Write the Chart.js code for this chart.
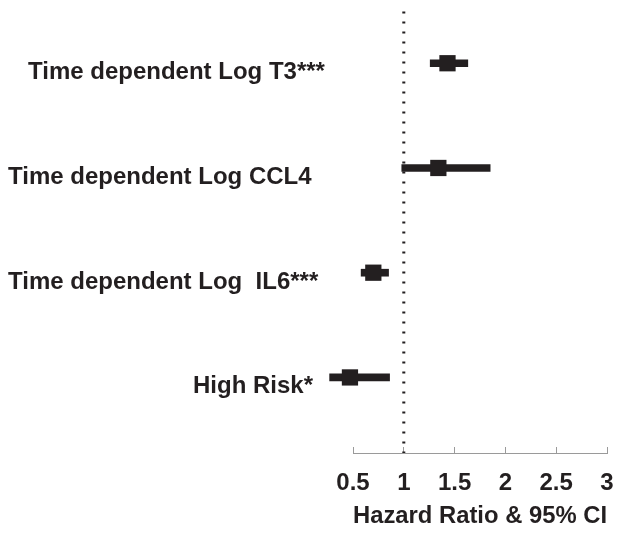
<!DOCTYPE html>
<html>
<head>
<meta charset="utf-8">
<script src="https://cdn.jsdelivr.net/npm/chart.js@4"></script>
<style>
  html, body { margin: 0; padding: 0; background: #fff; }
  #wrap { width: 624px; height: 535px; }
</style>
</head>
<body>
<div id="wrap"><canvas id="c" width="624" height="535"></canvas></div>
<script>
const categories = ['Time dependent Log T3***', 'Time dependent Log CCL4', 'Time dependent Log  IL6***', 'High Risk*'];
const rowPos = [4, 3, 2, 1];
const hazardRatio = [1.43, 1.34, 0.70, 0.47];
const ciLower = [1.26, 0.98, 0.58, 0.27];
const ciUpper = [1.63, 1.85, 0.85, 0.86];
const tickValues = [0.5, 1, 1.5, 2, 2.5, 3];
const tickLabels = ['0.5', '1', '1.5', '2', '2.5', '3'];
const referenceValue = 1;
const axisTitle = 'Hazard Ratio & 95% CI';

const INK = '#231f20';
const FONT = '"Liberation Sans", Arial, sans-serif';
const Y_MIN = 0.2785, Y_MAX = 4.494;

const labelPlugin = {
  id: 'rowLabels',
  afterDraw(chart, args, opts) {
    const ctx = chart.ctx;
    const y = chart.scales.y;
    ctx.save();
    ctx.fillStyle = INK;
    ctx.font = 'bold 24px ' + FONT;
    ctx.textAlign = 'left';
    ctx.textBaseline = 'alphabetic';
    categories.forEach((c, i) => {
      ctx.fillText(c, opts.left[i], y.getPixelForValue(rowPos[i]) + opts.baselineOffset);
    });
    ctx.restore();
  }
};

new Chart(document.getElementById('c'), {
  type: 'bar',
  data: {
    datasets: [
      {
        type: 'line',
        indexAxis: 'y',
        data: [{x: referenceValue, y: Y_MAX}, {x: referenceValue, y: Y_MIN}],
        borderColor: INK,
        borderWidth: 3,
        borderDash: [2, 8],
        pointRadius: 0,
        fill: false,
        order: 3
      },
      {
        type: 'bar',
        indexAxis: 'y',
        data: rowPos.map((p, i) => ({x: [ciLower[i], ciUpper[i]], y: p})),
        backgroundColor: INK,
        borderWidth: 0,
        barThickness: 7,
        order: 2
      },
      {
        type: 'scatter',
        indexAxis: 'x',
        data: rowPos.map((p, i) => ({x: hazardRatio[i], y: p})),
        pointStyle: 'rect',
        pointRadius: 11.5,
        backgroundColor: INK,
        borderWidth: 0,
        order: 1
      }
    ]
  },
  options: {
    indexAxis: 'y',
    responsive: false,
    animation: false,
    events: [],
    clip: false,
    layout: { padding: { left: 353, right: 17, top: 9, bottom: 0 } },
    plugins: {
      legend: { display: false },
      tooltip: { enabled: false },
      rowLabels: { left: [28, 8, 8, 193], baselineOffset: 16 }
    },
    scales: {
      x: {
        type: 'linear',
        position: 'bottom',
        offset: false,
        min: 0.5,
        max: 3,
        afterBuildTicks(scale) { scale.ticks = tickValues.map(v => ({value: v})); },
        afterFit(scale) { scale.height = 82; scale.paddingLeft = 0; scale.paddingRight = 0; },
        ticks: {
          callback: (v, i) => tickLabels[i],
          color: INK,
          font: { family: FONT, size: 24, weight: 'bold' },
          padding: 22,
          maxRotation: 0,
          autoSkip: false
        },
        grid: {
          offset: false,
          drawOnChartArea: false,
          drawTicks: true,
          tickLength: -6,
          color: '#9a9a9a',
          lineWidth: 1
        },
        border: { display: true, color: '#9a9a9a', width: 1 },
        title: {
          display: true,
          text: axisTitle,
          color: INK,
          font: { family: FONT, size: 24, weight: 'bold' },
          padding: { top: 0, bottom: 4 }
        }
      },
      y: {
        type: 'linear',
        display: false,
        offset: false,
        grid: { offset: false },
        min: Y_MIN,
        max: Y_MAX
      }
    }
  },
  plugins: [labelPlugin]
});
</script>
</body>
</html>
